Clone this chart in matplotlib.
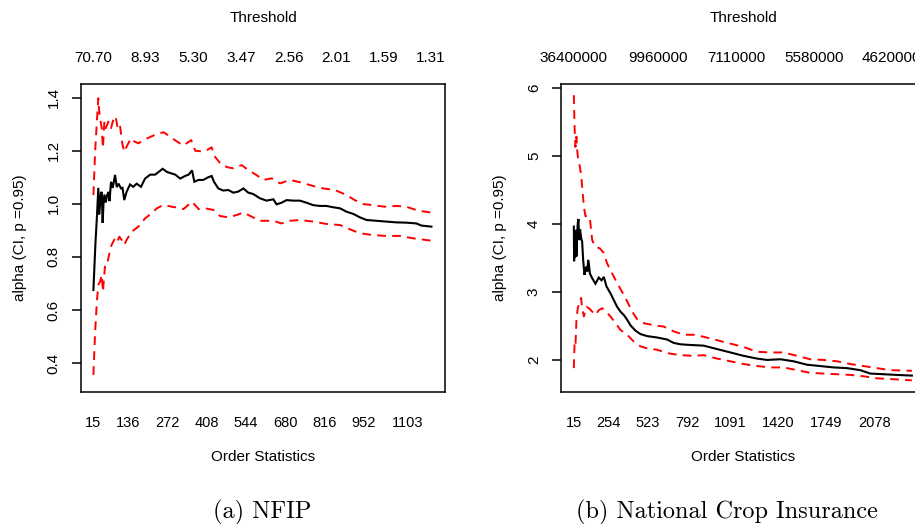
import matplotlib
matplotlib.use("Agg")
import matplotlib.pyplot as plt

# ---------------- data ----------------
# NFIP panel
nfip_k_est = [15, 22, 27, 32, 35, 38, 41, 44, 47, 50, 53, 58, 62, 67, 71, 76, 82, 90, 96, 102,
              111, 116, 122, 130, 142, 153, 165, 180, 194, 212, 229, 241, 255, 270, 287, 299,
              316, 333, 345, 357, 365, 379, 396, 413, 425, 433, 448, 465, 483, 500, 517, 535,
              552, 569, 592, 615, 639, 650, 667, 685, 708, 731, 754, 777, 800, 823, 846, 870,
              893, 916, 939, 962, 997, 1031, 1066, 1100, 1135, 1152, 1187]
nfip_est = [0.675, 0.85, 0.947, 1.06, 0.96, 0.995, 1.04, 1.045, 0.928, 1.0, 1.035, 1.005, 1.03,
            1.045, 1.01, 1.083, 1.06, 1.109, 1.063, 1.076, 1.058, 1.06, 1.014, 1.045, 1.073,
            1.064, 1.076, 1.064, 1.095, 1.11, 1.11, 1.12, 1.132, 1.12, 1.114, 1.11, 1.095,
            1.105, 1.11, 1.126, 1.083, 1.09, 1.09, 1.1, 1.105, 1.083, 1.058, 1.05, 1.052,
            1.042, 1.046, 1.058, 1.042, 1.037, 1.021, 1.012, 1.017, 0.998, 1.004, 1.014,
            1.012, 1.012, 1.004, 0.995, 0.992, 0.992, 0.987, 0.983, 0.970, 0.962, 0.949,
            0.939, 0.936, 0.933, 0.930, 0.929, 0.926, 0.918, 0.914]

nfip_k_up = [15, 21, 27, 32, 35, 38, 44, 48, 53, 58, 67, 76, 84, 92, 99, 107, 115, 122, 130,
             145, 157, 171, 188, 208, 229, 258, 281, 304, 327, 354, 368, 397, 413, 425, 436,
             460, 483, 500, 529, 552, 581, 604, 633, 662, 696, 737, 777, 812, 852, 893, 921,
             950, 985, 1025, 1066, 1100, 1141, 1187]
nfip_up = [1.033, 1.196, 1.31, 1.398, 1.35, 1.324, 1.285, 1.21, 1.31, 1.285, 1.31, 1.285,
           1.317, 1.33, 1.285, 1.297, 1.228, 1.196, 1.215, 1.247, 1.235, 1.228, 1.24, 1.25,
           1.26, 1.27, 1.253, 1.235, 1.22, 1.24, 1.2, 1.197, 1.205, 1.213, 1.178, 1.146,
           1.137, 1.134, 1.146, 1.127, 1.108, 1.09, 1.096, 1.077, 1.09, 1.08, 1.067, 1.058,
           1.052, 1.033, 1.014, 0.999, 0.995, 0.989, 0.992, 0.989, 0.974, 0.967]

nfip_k_lo = [15, 21, 27, 32, 38, 44, 48, 55, 61, 69, 78, 90, 98, 105, 113, 122, 130, 148, 171,
             194, 217, 235, 258, 287, 310, 327, 357, 380, 402, 431, 454, 483, 512, 535, 563,
             592, 639, 667, 696, 731, 777, 823, 870, 904, 939, 985, 1031, 1077, 1123, 1187]
nfip_lo = [0.355, 0.518, 0.631, 0.694, 0.707, 0.732, 0.669, 0.763, 0.763, 0.807, 0.845, 0.87,
           0.857, 0.876, 0.864, 0.845, 0.864, 0.895, 0.914, 0.945, 0.964, 0.983, 0.996,
           0.989, 0.985, 0.98, 1.008, 0.98, 0.983, 0.977, 0.954, 0.949, 0.958, 0.967, 0.952,
           0.936, 0.936, 0.926, 0.936, 0.939, 0.933, 0.924, 0.920, 0.904, 0.889, 0.882,
           0.879, 0.879, 0.870, 0.861]

nfip_bottom_ticks = [15, 136, 272, 408, 544, 680, 816, 952, 1103]
nfip_top_pos = [15, 195, 361, 528, 694, 857, 1023, 1186]
nfip_top_labels = ["70.70", "8.93", "5.30", "3.47", "2.56", "2.01", "1.59", "1.31"]
nfip_yticks = [0.4, 0.6, 0.8, 1.0, 1.2, 1.4]

# National Crop Insurance panel
crop_k_est = [15, 17, 20, 23, 26, 30, 33, 38, 42, 47, 50, 54, 58, 61, 66, 72, 79, 84, 88, 95,
              102, 108, 113, 118, 125, 141, 163, 186, 205, 221, 239, 266, 289, 312, 335, 358,
              381, 403, 438, 472, 518, 586, 655, 700, 746, 815, 906, 997, 1089, 1180, 1272,
              1340, 1432, 1523, 1614, 1706, 1797, 1888, 1980, 2048, 2140, 2231, 2334]
crop_est = [3.96, 3.45, 3.9, 3.5, 3.91, 3.85, 3.52, 3.85, 4.01, 4.07, 3.8, 3.76, 3.92, 3.86,
            3.78, 3.74, 3.47, 3.35, 3.25, 3.33, 3.37, 3.30, 3.47, 3.42, 3.27, 3.20, 3.12,
            3.21, 3.17, 3.22, 3.08, 2.98, 2.88, 2.78, 2.71, 2.66, 2.59, 2.51, 2.43, 2.38,
            2.35, 2.33, 2.30, 2.25, 2.23, 2.22, 2.21, 2.16, 2.11, 2.06, 2.02, 2.00, 2.01,
            1.98, 1.93, 1.91, 1.89, 1.88, 1.85, 1.80, 1.79, 1.78, 1.77]

crop_k_up = [15, 20, 26, 33, 38, 45, 56, 65, 72, 84, 95, 111, 125, 141, 163, 193, 221, 243,
             278, 312, 346, 381, 415, 449, 495, 563, 632, 700, 769, 837, 906, 997, 1089, 1180,
             1272, 1363, 1454, 1546, 1637, 1728, 1820, 1911, 2003, 2094, 2185, 2334]
crop_up = [5.89, 5.43, 5.13, 5.28, 5.08, 4.94, 4.84, 4.72, 4.55, 4.25, 4.11, 4.12, 4.08,
           3.76, 3.66, 3.64, 3.57, 3.42, 3.27, 3.13, 3.00, 2.86, 2.71, 2.60, 2.54, 2.51,
           2.49, 2.42, 2.37, 2.37, 2.34, 2.29, 2.24, 2.19, 2.12, 2.11, 2.11, 2.06, 2.01,
           2.00, 1.98, 1.94, 1.91, 1.88, 1.85, 1.84]

crop_k_lo = [15, 20, 26, 33, 42, 56, 65, 72, 84, 102, 118, 141, 163, 186, 209, 232, 266, 301,
             335, 381, 426, 472, 518, 586, 655, 746, 837, 906, 997, 1089, 1180, 1272, 1363,
             1454, 1546, 1637, 1728, 1820, 1911, 2003, 2094, 2185, 2334]
crop_lo = [1.88, 2.24, 2.20, 2.59, 2.76, 2.86, 2.91, 2.76, 2.64, 2.78, 2.76, 2.71, 2.66,
           2.73, 2.76, 2.72, 2.64, 2.54, 2.44, 2.37, 2.27, 2.20, 2.17, 2.15, 2.10, 2.07,
           2.06, 2.07, 2.02, 1.98, 1.94, 1.91, 1.89, 1.89, 1.85, 1.81, 1.80, 1.79, 1.78,
           1.76, 1.73, 1.72, 1.70]

crop_bottom_ticks = [15, 254, 523, 792, 1091, 1420, 1749, 2078]
crop_top_pos = [15, 592, 1128, 1660, 2193]
crop_top_labels = ["36400000", "9960000", "7110000", "5580000", "4620000"]
crop_yticks = [2, 3, 4, 5, 6]

ylabel_text = "alpha (CI, p =0.95)"
captions = ["(a) NFIP", "(b) National Crop Insurance"]

# ---------------- drawing ----------------
plt.rcParams['font.family'] = ['Liberation Sans', 'DejaVu Sans']
W, H = 915, 524
fig = plt.figure(figsize=(W / 100, H / 100), dpi=100)

FS = 11


def panel(left_px, xlim, ylim, k_est, est, k_up, up, k_lo, lo,
          bticks, tpos, tlabels, yticks, caption, cap_x):
    top_px, bottom_px, width_px = 84, 392, 364
    ax = fig.add_axes([left_px / W, (H - bottom_px) / H, width_px / W,
                       (bottom_px - top_px) / H])
    ax.plot(k_est, est, color='black', lw=1.5, solid_joinstyle='miter')
    ax.plot(k_up, up, color='#ff0000', lw=1.4, dashes=(4.5, 3.2))
    ax.plot(k_lo, lo, color='#ff0000', lw=1.4, dashes=(4.5, 3.2))
    ax.set_xlim(*xlim)
    ax.set_ylim(*ylim)
    for s in ax.spines.values():
        s.set_linewidth(1.1)
    ax.set_xticks(bticks)
    ax.set_xticklabels([str(b) for b in bticks])
    ax.tick_params(axis='x', length=0, pad=17, labelsize=FS - 0.5)
    ax.set_yticks(yticks)
    ax.set_yticklabels([("%g" % y) if isinstance(y, int) else ("%.1f" % y) for y in yticks])
    ax.tick_params(axis='y', length=6.5, width=1.1, pad=8, labelsize=FS,
                   labelrotation=90)
    for lab in ax.get_yticklabels():
        lab.set_va('center')
    ax2 = ax.twiny()
    ax2.set_xlim(*xlim)
    ax2.set_xticks(tpos)
    ax2.set_xticklabels(tlabels)
    ax2.tick_params(axis='x', length=0, pad=14, labelsize=FS)
    for s in ax2.spines.values():
        s.set_visible(False)
    cx = (left_px + width_px / 2) / W
    fig.text(cx, 1 - 18.5 / H, "Threshold", ha='center', va='center', fontsize=FS)
    fig.text(cx, 1 - 457 / H, "Order Statistics", ha='center', va='center', fontsize=FS)
    fig.text((left_px - 61) / W, 1 - 238 / H, ylabel_text, rotation=90,
             ha='center', va='center', fontsize=FS)
    fig.text(cap_x / W, 6 / H, caption, ha='center', va='baseline',
             fontsize=17.5, family='cmr10')
    return ax


panel(81, (-28, 1234), (0.2907, 1.4516), nfip_k_est, nfip_est, nfip_k_up, nfip_up,
      nfip_k_lo, nfip_lo, nfip_bottom_ticks, nfip_top_pos, nfip_top_labels,
      nfip_yticks, captions[0], 262)
panel(561, (-73, 2424), (1.529, 6.054), crop_k_est, crop_est, crop_k_up, crop_up,
      crop_k_lo, crop_lo, crop_bottom_ticks, crop_top_pos, crop_top_labels,
      crop_yticks, captions[1], 727)

fig.savefig("out.png", dpi=100)
